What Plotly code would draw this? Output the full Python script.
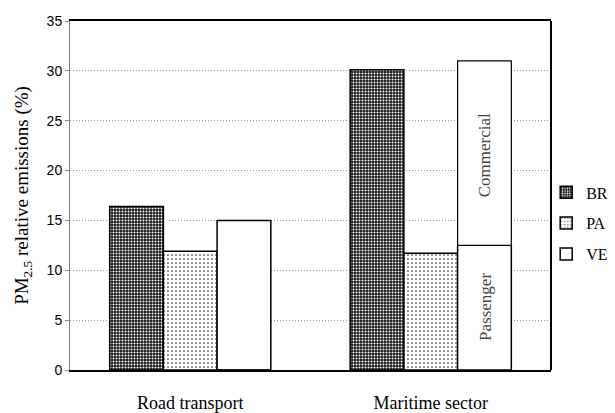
import plotly.graph_objects as go

# data
categories = ["Road transport", "Maritime sector"]
br_values = [16.4, 30.1]
pa_values = [11.9, 11.7]
ve_passenger = [15.0, 12.5]     # road VE is a single block
ve_commercial = [0, 18.5]       # only the maritime bar is split
ve_commercial_base = [0, 12.5]
y_ticks = [0, 5, 10, 15, 20, 25, 30, 35]

serif = "Liberation Serif"

fig = go.Figure()

fig.add_trace(go.Bar(
    name="BR", x=categories, y=br_values, offsetgroup="BR", legendgroup="BR",
    marker=dict(color="#1a1a1a", line=dict(color="black", width=1.5),
                pattern=dict(shape=".", size=3, solidity=0.35, fgcolor="white",
                             bgcolor="#1a1a1a", fillmode="replace")),
))
fig.add_trace(go.Bar(
    name="PA", x=categories, y=pa_values, offsetgroup="PA", legendgroup="PA",
    marker=dict(color="white", line=dict(color="black", width=1.5),
                pattern=dict(shape=".", size=4, solidity=0.12, fgcolor="black",
                             bgcolor="white", fillmode="replace")),
))
fig.add_trace(go.Bar(
    name="VE", x=categories, y=ve_passenger, offsetgroup="VE", legendgroup="VE",
    marker=dict(color="white", line=dict(color="black", width=1.5)),
))
fig.add_trace(go.Bar(
    name="VE", x=categories, y=ve_commercial, base=ve_commercial_base,
    offsetgroup="VE", legendgroup="VE", showlegend=False,
    marker=dict(color="white", line=dict(color="black", width=1.2)),
))

# labels inside the split maritime VE bar
fig.add_annotation(x=categories[1], y=21.5, xshift=54, text="Commercial",
                   textangle=-90, showarrow=False,
                   font=dict(family=serif, size=17, color="#444444"))
fig.add_annotation(x=categories[1], y=6.3, xshift=54, text="Passenger",
                   textangle=-90, showarrow=False,
                   font=dict(family=serif, size=17, color="#444444"))

# right border of the plot frame
fig.add_shape(type="line", xref="paper", yref="paper", x0=1, x1=1, y0=0, y1=1,
              line=dict(color="black", width=2))

# the page body adds an 8px margin, so the figure is drawn 8px smaller
fig.update_layout(
    width=607, height=405,
    margin=dict(l=62, r=64, t=13, b=43, autoexpand=False),
    plot_bgcolor="white", paper_bgcolor="white",
    barmode="group", bargap=0.33, bargroupgap=0,
    font=dict(family=serif),
    legend=dict(x=0.99, y=0.42, xanchor="left", yanchor="middle",
                font=dict(family=serif, size=16, color="black"),
                itemwidth=30, tracegroupgap=7, bgcolor="rgba(0,0,0,0)"),
    xaxis=dict(showline=True, linecolor="black", linewidth=2, mirror=True,
               ticks="", ticklabelstandoff=15, automargin=False,
               tickfont=dict(family=serif, size=18, color="black")),
    yaxis=dict(range=[0, 35], tickvals=y_ticks, showline=True,
               linecolor="#888888", linewidth=1, automargin=False,
               ticks="outside", ticklen=4, tickcolor="#888888",
               showgrid=True, gridcolor="#999999", griddash="1px,2px", gridwidth=1,
               zeroline=False,
               tickfont=dict(family="Liberation Sans", size=14, color="black"),
               title=dict(text="PM<sub>2.5</sub> relative emissions (%)",
                          standoff=12,
                          font=dict(family=serif, size=19, color="black"))),
)

fig.write_html("out.html")
